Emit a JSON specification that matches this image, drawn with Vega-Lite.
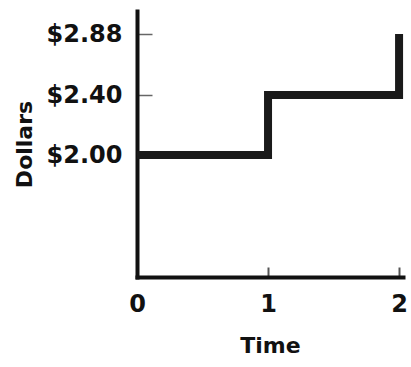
{
  "$schema": "https://vega.github.io/schema/vega-lite/v6.json",
  "autosize": "none",
  "width": 266,
  "height": 266,
  "padding": {"left": 137, "top": 11, "right": 8, "bottom": 90},
  "background": "white",
  "config": {
    "view": {"stroke": null},
    "font": "DejaVu Sans"
  },
  "data": {
    "values": [
      {"time": 0, "price": 2.00},
      {"time": 1, "price": 2.40},
      {"time": 2, "price": 2.88}
    ]
  },
  "mark": {
    "type": "line",
    "interpolate": "step-after",
    "color": "#1a1a1a",
    "strokeWidth": 8,
    "strokeCap": "butt",
    "strokeJoin": "miter"
  },
  "encoding": {
    "x": {
      "field": "time",
      "type": "quantitative",
      "title": "Time",
      "scale": {"domain": [0, 2.03], "nice": false, "zero": false},
      "axis": {
        "values": [0, 1, 2],
        "labelExpr": "'' + round(datum.value)",
        "grid": false,
        "domainColor": "#111",
        "domainWidth": 4,
        "domainCap": "square",
        "tickSize": -10,
        "tickWidth": 2,
        "tickColor": "#555",
        "labelPadding": 25,
        "labelOverlap": false,
        "labelBound": false,
        "labelFont": "DejaVu Sans",
        "labelFontSize": 24,
        "labelFontWeight": "bold",
        "labelColor": "#111",
        "labelFlush": false,
        "titleFont": "DejaVu Sans",
        "titleFontSize": 22,
        "titleFontWeight": "bold",
        "titleColor": "#111",
        "titlePadding": 19
      }
    },
    "y": {
      "field": "price",
      "type": "quantitative",
      "title": "Dollars",
      "scale": {
        "domain": [1.2, 2.0, 2.4, 2.88, 3.0],
        "range": [266, 144, 84, 23, 0],
        "nice": false,
        "zero": false
      },
      "axis": {
        "values": [2.0, 2.4, 2.88],
        "labelExpr": "'$' + format(datum.value, '.2f')",
        "grid": false,
        "domainColor": "#111",
        "domainWidth": 4,
        "domainCap": "square",
        "tickSize": -15,
        "tickWidth": 1.5,
        "tickColor": "#666",
        "labelPadding": 30,
        "labelOverlap": false,
        "labelFont": "DejaVu Sans",
        "labelFontSize": 24,
        "labelFontWeight": "bold",
        "labelColor": "#111",
        "labelFlush": false,
        "titleFont": "DejaVu Sans",
        "titleFontSize": 22,
        "titleFontWeight": "bold",
        "titleColor": "#111",
        "titlePadding": 10
      }
    }
  }
}
